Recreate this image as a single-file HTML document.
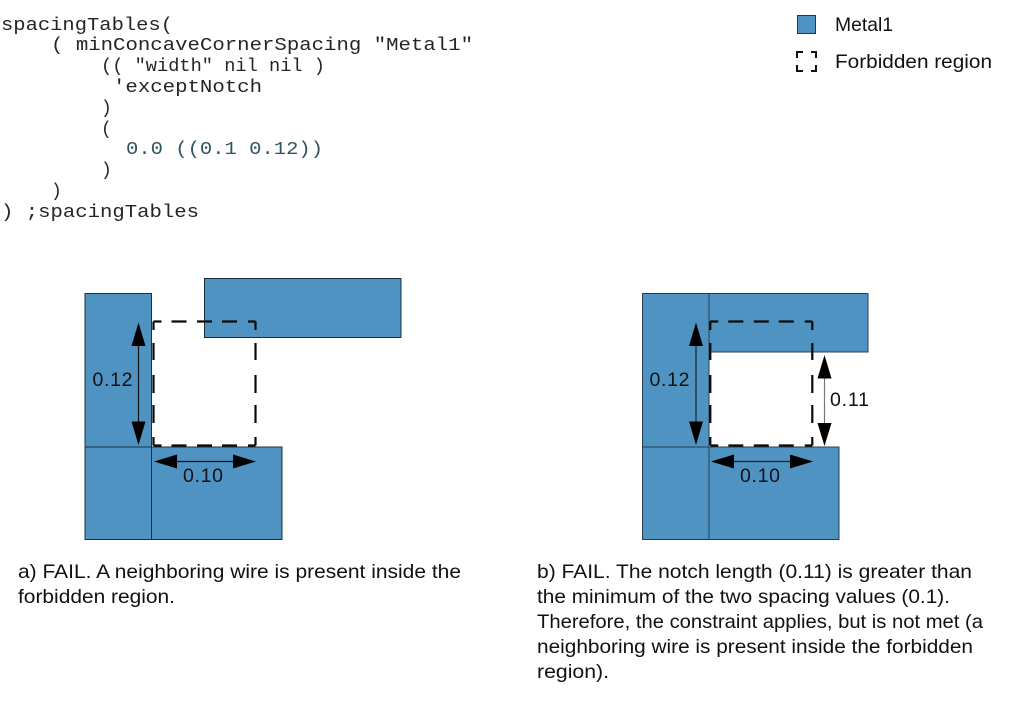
<!DOCTYPE html>
<html><head><meta charset="utf-8"><style>
html,body{margin:0;padding:0;background:#fff;width:1013px;height:701px;overflow:hidden}
svg{display:block}
.s{font-family:"Liberation Sans",sans-serif;font-size:19.5px;fill:#111}
.m{font-family:"Liberation Mono",monospace;font-size:18px;fill:#2a2420}
</style></head><body>
<svg width="1013" height="701" viewBox="0 0 1013 701" xmlns="http://www.w3.org/2000/svg">
<defs>
<path id="d" d="M153.500 321.500H161.500M171.500 321.500H186.500M197 321.500H212M222 321.500H237M248 321.500H255.500M153.500 445.500H161.500M171.500 445.500H186.500M197 445.500H212M222 445.500H237M248 445.500H255.500M153.500 321.500V330M153.500 343V360M153.500 375V393M153.500 405V423M153.500 437V445.500M255.500 321.500V330M255.500 343V360M255.500 375V393M255.500 405V423M255.500 437V445.500" fill="none" stroke="#0a0a0a" stroke-width="2.200"/>
</defs>
<g class="m">
<text x="1" y="30" textLength="172" lengthAdjust="spacingAndGlyphs">spacingTables(</text>
<text x="51" y="50" textLength="422" lengthAdjust="spacingAndGlyphs">( minConcaveCornerSpacing "Metal1"</text>
<text x="101" y="71" textLength="224" lengthAdjust="spacingAndGlyphs">(( "width" nil nil )</text>
<text x="113" y="92" textLength="149" lengthAdjust="spacingAndGlyphs">'exceptNotch</text>
<text x="101" y="113">)</text>
<text x="101" y="134">(</text>
<text x="126" y="154" textLength="197" lengthAdjust="spacingAndGlyphs" style="fill:#2f5560">0.0 ((0.1 0.12))</text>
<text x="101" y="175">)</text>
<text x="51" y="196">)</text>
<text x="1" y="217" textLength="198" lengthAdjust="spacingAndGlyphs">) ;spacingTables</text>
</g>
<rect x="797.500" y="15.500" width="18" height="18" fill="#4f93c3" stroke="#333" stroke-width="1"/>
<path d="M797 58V52H803M811 52H816V58M816 65V71H811M803 71H797V65" fill="none" stroke="#111" stroke-width="2"/>
<text class="s" x="835" y="31" textLength="58" lengthAdjust="spacingAndGlyphs">Metal1</text>
<text class="s" x="835" y="68" textLength="157" lengthAdjust="spacingAndGlyphs">Forbidden region</text>

<g fill="#4f93c3" stroke="#1c2f3c" stroke-width="1">
<rect x="85" y="293.500" width="66.500" height="153.500"/>
<rect x="85" y="447" width="66.500" height="92.500"/>
<rect x="151.500" y="447" width="130.500" height="92.500"/>
<rect x="204.500" y="278.500" width="196.500" height="59"/>
</g>
<use href="#d"/>
<path d="M138.500 340V430M174 461.500H240" stroke="#111" stroke-width="1.200" fill="none"/>
<path d="M138.500 322.500L145.500 346H131.500ZM138.500 445L145.500 421.500H131.500ZM154 461.500L177 454.500V468.500ZM256 461.500L233 454.500V468.500Z" fill="#000"/>
<text class="s" x="92.500" y="386" textLength="40">0.12</text>
<text class="s" x="183" y="482" textLength="40">0.10</text>

<g fill="#4f93c3" stroke="#263f50" stroke-width="1">
<rect x="642.500" y="293.500" width="66.500" height="153.500"/>
<rect x="709" y="293.500" width="159" height="58.500"/>
<rect x="642.500" y="447" width="66.500" height="92.500"/>
<rect x="709" y="447" width="130" height="92.500"/>
</g>
<use href="#d" transform="translate(556.800,0)"/>
<path d="M696 340V430M731 461.500H797" stroke="#222" stroke-width="1.200" fill="none"/>
<path d="M824.500 370V430" stroke="#777" stroke-width="1.200" fill="none"/>
<path d="M696 322.500L703 346H689ZM696 445L703 421.500H689ZM711 461.500L734 454.500V468.500ZM813 461.500L790 454.500V468.500ZM824.500 355L831.500 378.500H817.500ZM824.500 446L831.500 423H817.500Z" fill="#000"/>
<text class="s" x="649.500" y="386" textLength="40">0.12</text>
<text class="s" x="740" y="482" textLength="40">0.10</text>
<text class="s" x="830" y="406" textLength="39">0.11</text>

<text class="s" x="18" y="578" textLength="443" lengthAdjust="spacingAndGlyphs">a) FAIL. A neighboring wire is present inside the</text>
<text class="s" x="18" y="603" textLength="157" lengthAdjust="spacingAndGlyphs">forbidden region.</text>
<text class="s" x="537" y="578" textLength="435" lengthAdjust="spacingAndGlyphs">b) FAIL. The notch length (0.11) is greater than</text>
<text class="s" x="537" y="603" textLength="413" lengthAdjust="spacingAndGlyphs">the minimum of the two spacing values (0.1).</text>
<text class="s" x="537" y="628" textLength="446" lengthAdjust="spacingAndGlyphs">Therefore, the constraint applies, but is not met (a</text>
<text class="s" x="537" y="653" textLength="436" lengthAdjust="spacingAndGlyphs">neighboring wire is present inside the forbidden</text>
<text class="s" x="537" y="678" textLength="72" lengthAdjust="spacingAndGlyphs">region).</text>
</svg>
</body></html>
